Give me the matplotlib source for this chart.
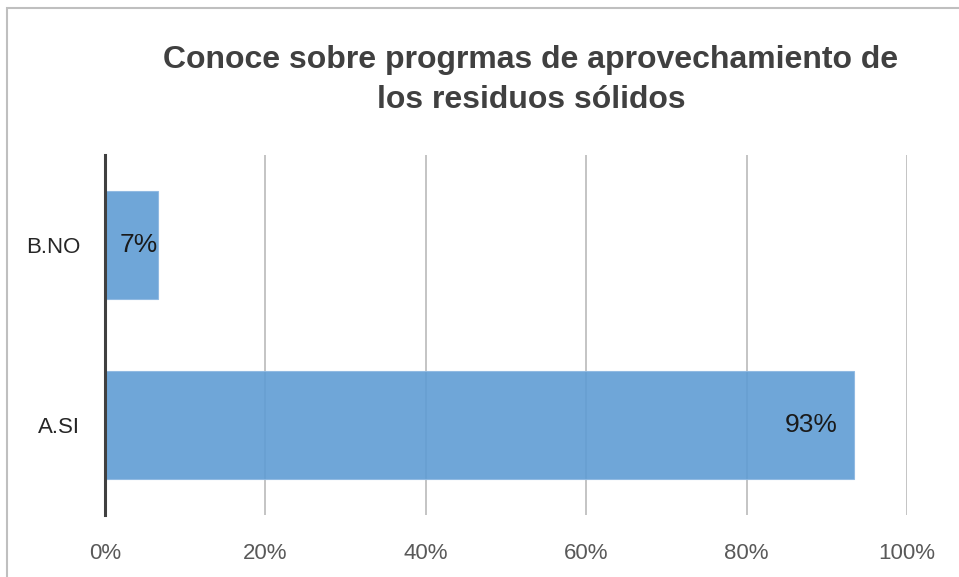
import matplotlib.pyplot as plt
import matplotlib.patches as patches
from matplotlib.ticker import FuncFormatter

categories = ['A.SI', 'B.NO']
values = [93.33, 6.67]
value_labels = ['93%', '7%']
label_offsets = [-16, -1]  # px, inside-end labels
xticks = [0, 20, 40, 60, 80, 100]

plt.rcParams['font.family'] = ['Liberation Sans', 'DejaVu Sans']

fig = plt.figure(figsize=(9.59, 5.77), dpi=100)
ax = fig.add_axes([105/959, 1 - 515/577, 802/959, 360/577])

# gridlines
ax.set_axisbelow(True)
ax.grid(axis='x', color='#B4B4B4', linewidth=1.1)
ax.grid(axis='y', visible=False)

ypos = list(range(len(categories)))
ax.barh(ypos, values, height=0.6, color='#5F9CD4', alpha=0.9,
        edgecolor='#8DB8E2', linewidth=0.8, zorder=3)

for y, v, lab, off in zip(ypos, values, value_labels, label_offsets):
    ax.annotate(lab, xy=(v, y), xytext=(off * 0.72, 0), textcoords='offset points',
                ha='right', va='center', fontsize=19, color='#1A1A1A', zorder=4)

ax.set_xlim(0, 100)
ax.set_ylim(-0.5, 1.5)
ax.set_xticks(xticks)
ax.xaxis.set_major_formatter(FuncFormatter(lambda v, p: f'{v:.0f}%'))
ax.set_yticks(ypos)
ax.set_yticklabels(categories)
ax.tick_params(axis='x', length=0, pad=20, labelsize=16, labelcolor='#595959')
ax.tick_params(axis='y', length=0, pad=18, labelsize=16, labelcolor='#262626')

for s in ['top', 'right', 'bottom']:
    ax.spines[s].set_visible(False)
ax.spines['left'].set_color('#404040')
ax.spines['left'].set_linewidth(2.2)
ax.spines['left'].set_zorder(5)

fig.text(531/959, 1 - 80/577, 'Conoce sobre progrmas de aprovechamiento de\nlos residuos sólidos',
         ha='center', va='center', fontsize=23, fontweight='bold', color='#404040',
         linespacing=1.4)

# chart border
fig.patches.append(patches.Rectangle((7/959, -0.1), 1.2, 1 - 8/577 + 0.1,
                                     transform=fig.transFigure, fill=False,
                                     edgecolor='#BFBFBF', linewidth=1.5))

fig.savefig('out.png', dpi=100)
